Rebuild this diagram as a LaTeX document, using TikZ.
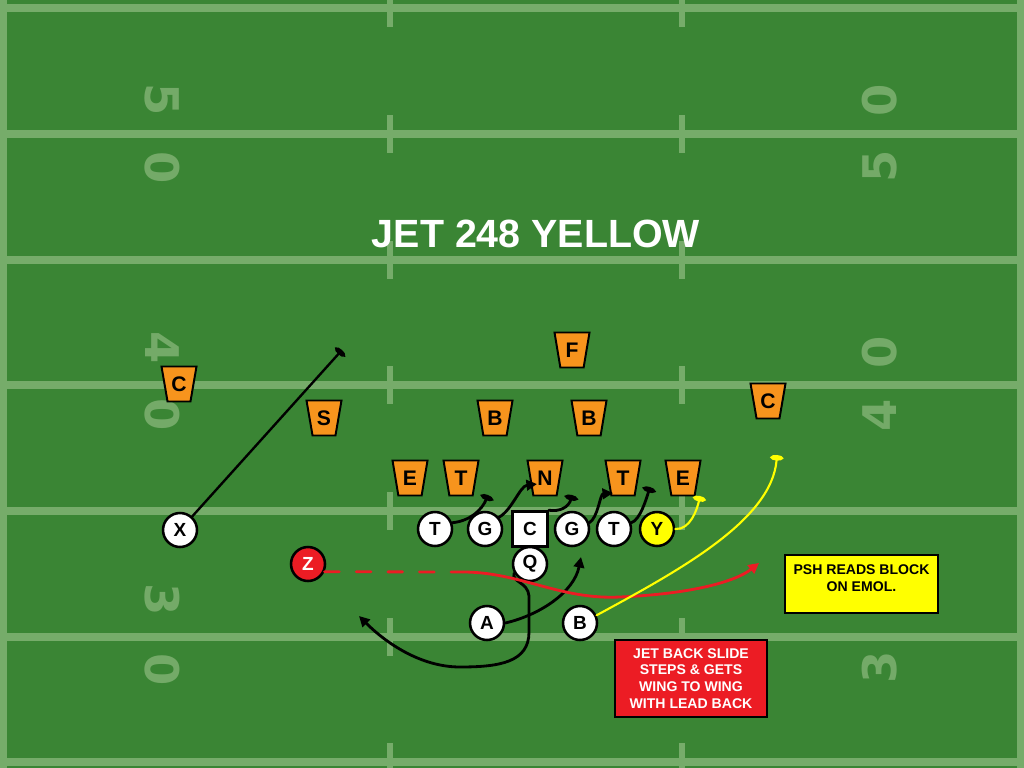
\documentclass[tikz,border=0pt]{standalone}
\usepackage{fontspec}
\setmainfont{Liberation Sans}
\newfontfamily\numfont{DejaVu Sans}
\usetikzlibrary{shapes.geometric,arrows.meta}
\definecolor{grass}{RGB}{58,133,52}
\definecolor{yardline}{RGB}{118,172,106}
\definecolor{numgreen}{RGB}{116,170,104}
\definecolor{dorange}{RGB}{247,148,29}
\definecolor{pyellow}{RGB}{255,255,0}
\definecolor{pred}{RGB}{236,28,36}
\newlength{\px}\setlength{\px}{0.025cm}
\begin{document}
\begin{tikzpicture}[x=0.025cm, y=-0.025cm,
  player/.style={circle, draw=black, line width=1.8pt, fill=white, minimum size=34\px, inner sep=0pt, font=\bfseries\fontsize{13.5}{13.5}\selectfont},
  snapbox/.style={player, rectangle, minimum size=35\px},
  defender/.style={trapezium, trapezium angle=68, shape border rotate=180, trapezium stretches body, draw=black, line width=1.4pt, fill=dorange, minimum width=35\px, minimum height=35\px, inner sep=0pt, font=\bfseries\fontsize{15}{15}\selectfont},
  fieldnum/.style={text=numgreen, font=\numfont\bfseries\fontsize{33}{33}\selectfont, inner sep=0pt},
  route/.style={line width=2pt, line cap=round},
  yroute/.style={draw=pyellow, line width=1.5pt},
  zroute/.style={draw=pred},
  blocktip/.style={-{Ellipse[length=4pt,width=9pt]}},
  runtip/.style={-{Triangle[length=7.5pt,width=7.5pt]}},
  note/.style={draw=black, line width=1.4pt, align=center, inner sep=0pt, font=\bfseries\fontsize{10}{12}\selectfont}]

% Field
\fill[grass] (0,0) rectangle (1024,768);
\useasboundingbox (0,0) rectangle (1024,768);
\foreach \yy in {8,134,260,385,511,637,762}{
  \fill[yardline] (0,\yy-4) rectangle (1024,\yy+4);
  \foreach \xx in {390,682} \fill[yardline] (\xx-3,\yy-19) rectangle (\xx+3,\yy+19);
}
\fill[yardline] (0,0) rectangle (7,768);
\fill[yardline] (1017,0) rectangle (1024,768);

% Yard numbers
\foreach \d/\yy [count=\i] in {5/100,0/168,4/348,0/415,3/600,0/670}
  \node[fieldnum, rotate=-90] (numl\i) at (162,\yy) {\d};
\foreach \d/\yy [count=\i] in {0/100,5/166,0/352,4/415,0/600,3/667}
  \node[fieldnum, rotate=90] (numr\i) at (880,\yy) {\d};

% Title
\node[text=white, font=\bfseries\fontsize{28}{28}\selectfont] (title) at (536,234) {JET 248 YELLOW};

% Defense
\node[defender] (f) at (572,350) {F};
\node[defender] (cl) at (179,384) {C};
\node[defender] (cr) at (768,401) {C};
\node[defender] (s) at (324,418) {S};
\node[defender] (bl) at (495,418) {B};
\node[defender] (br) at (589,418) {B};
\node[defender] (el) at (410,478) {E};
\node[defender] (tl) at (461,478) {T};
\node[defender] (n) at (545,478) {N};
\node[defender] (tr) at (623,478) {T};
\node[defender] (er) at (683,478) {E};

% Offense
\node[player] (x) at (180,530) {X};
\node[player] (lt) at (435,529) {T};
\node[player] (lg) at (485,529) {G};
\node[snapbox] (c) at (530,529) {C};
\node[player] (rg) at (572,529) {G};
\node[player] (rt) at (614,529) {T};
\node[player, fill=pyellow] (y) at (657,529) {Y};
\node[player, fill=pred, text=white] (z) at (308,564) {Z};
\node[player] (q) at (530,564) {Q};
\node[player] (a) at (487,623) {A};
\node[player] (b) at (580,623) {B};

% Route ends
\coordinate (xend) at (342,350);
\coordinate (ltend) at (488,495);
\coordinate (lgend) at (537,484);
\coordinate (cend) at (572,495);
\coordinate (rgend) at (613,493);
\coordinate (rtend) at (650,487);
\coordinate (yend) at (700,496);
\coordinate (qend) at (359,616);
\coordinate (aend) at (581,557);
\coordinate (zbreak) at (463,572);
\coordinate (zend) at (759,563);
\coordinate (bend) at (777,455);

% Blocks up front
\draw[route, blocktip, line width=1.7pt] (x) -- (xend);
\draw[route, blocktip] (lt.20) .. controls (470,521) and (482,510) .. (ltend);
\draw[route, runtip] (lg.40) .. controls (512,510) and (520,486) .. (lgend);
\draw[route, blocktip] (c.north east) .. controls (560,512) and (569,507) .. (cend);
\draw[route, runtip] (rg.20) .. controls (598,518) and (600,494) .. (rgend);
\draw[route, blocktip] (rt.20) .. controls (640,520) and (646,500) .. (rtend);
\draw[route, yroute, blocktip] (y.east) .. controls (690,530) and (697,510) .. (yend);

% Backfield
\draw[route, runtip] (q.210) .. controls (511,582) and (528,582) .. (529,596) -- (529,632)
  .. controls (529,662) and (500,667) .. (460,667) .. controls (420,667) and (385,642) .. (qend);
\draw[route, runtip] (a.east) .. controls (540,615) and (574,592) .. (aend);
\draw[route, zroute, dash pattern=on 10.5pt off 12pt] (z.-25) -- (zbreak);
\draw[route, zroute, runtip] (zbreak) .. controls (520,572) and (560,600) .. (620,597)
  .. controls (690,594) and (735,582) .. (zend);
\draw[route, yroute, blocktip] (b.25) .. controls (680,570) and (772,520) .. (bend);

% Notes
\node[note, fill=pyellow, minimum width=153\px, minimum height=58\px] (psh) at (861.5,584) {PSH READS BLOCK\\ON EMOL.\\[-4pt]\mbox{}};
\node[note, fill=pred, text=white, minimum width=152\px, minimum height=77\px] (jet) at (691,678.5) {JET BACK SLIDE\\STEPS \& GETS\\WING TO WING\\WITH LEAD BACK};
\end{tikzpicture}
\end{document}
